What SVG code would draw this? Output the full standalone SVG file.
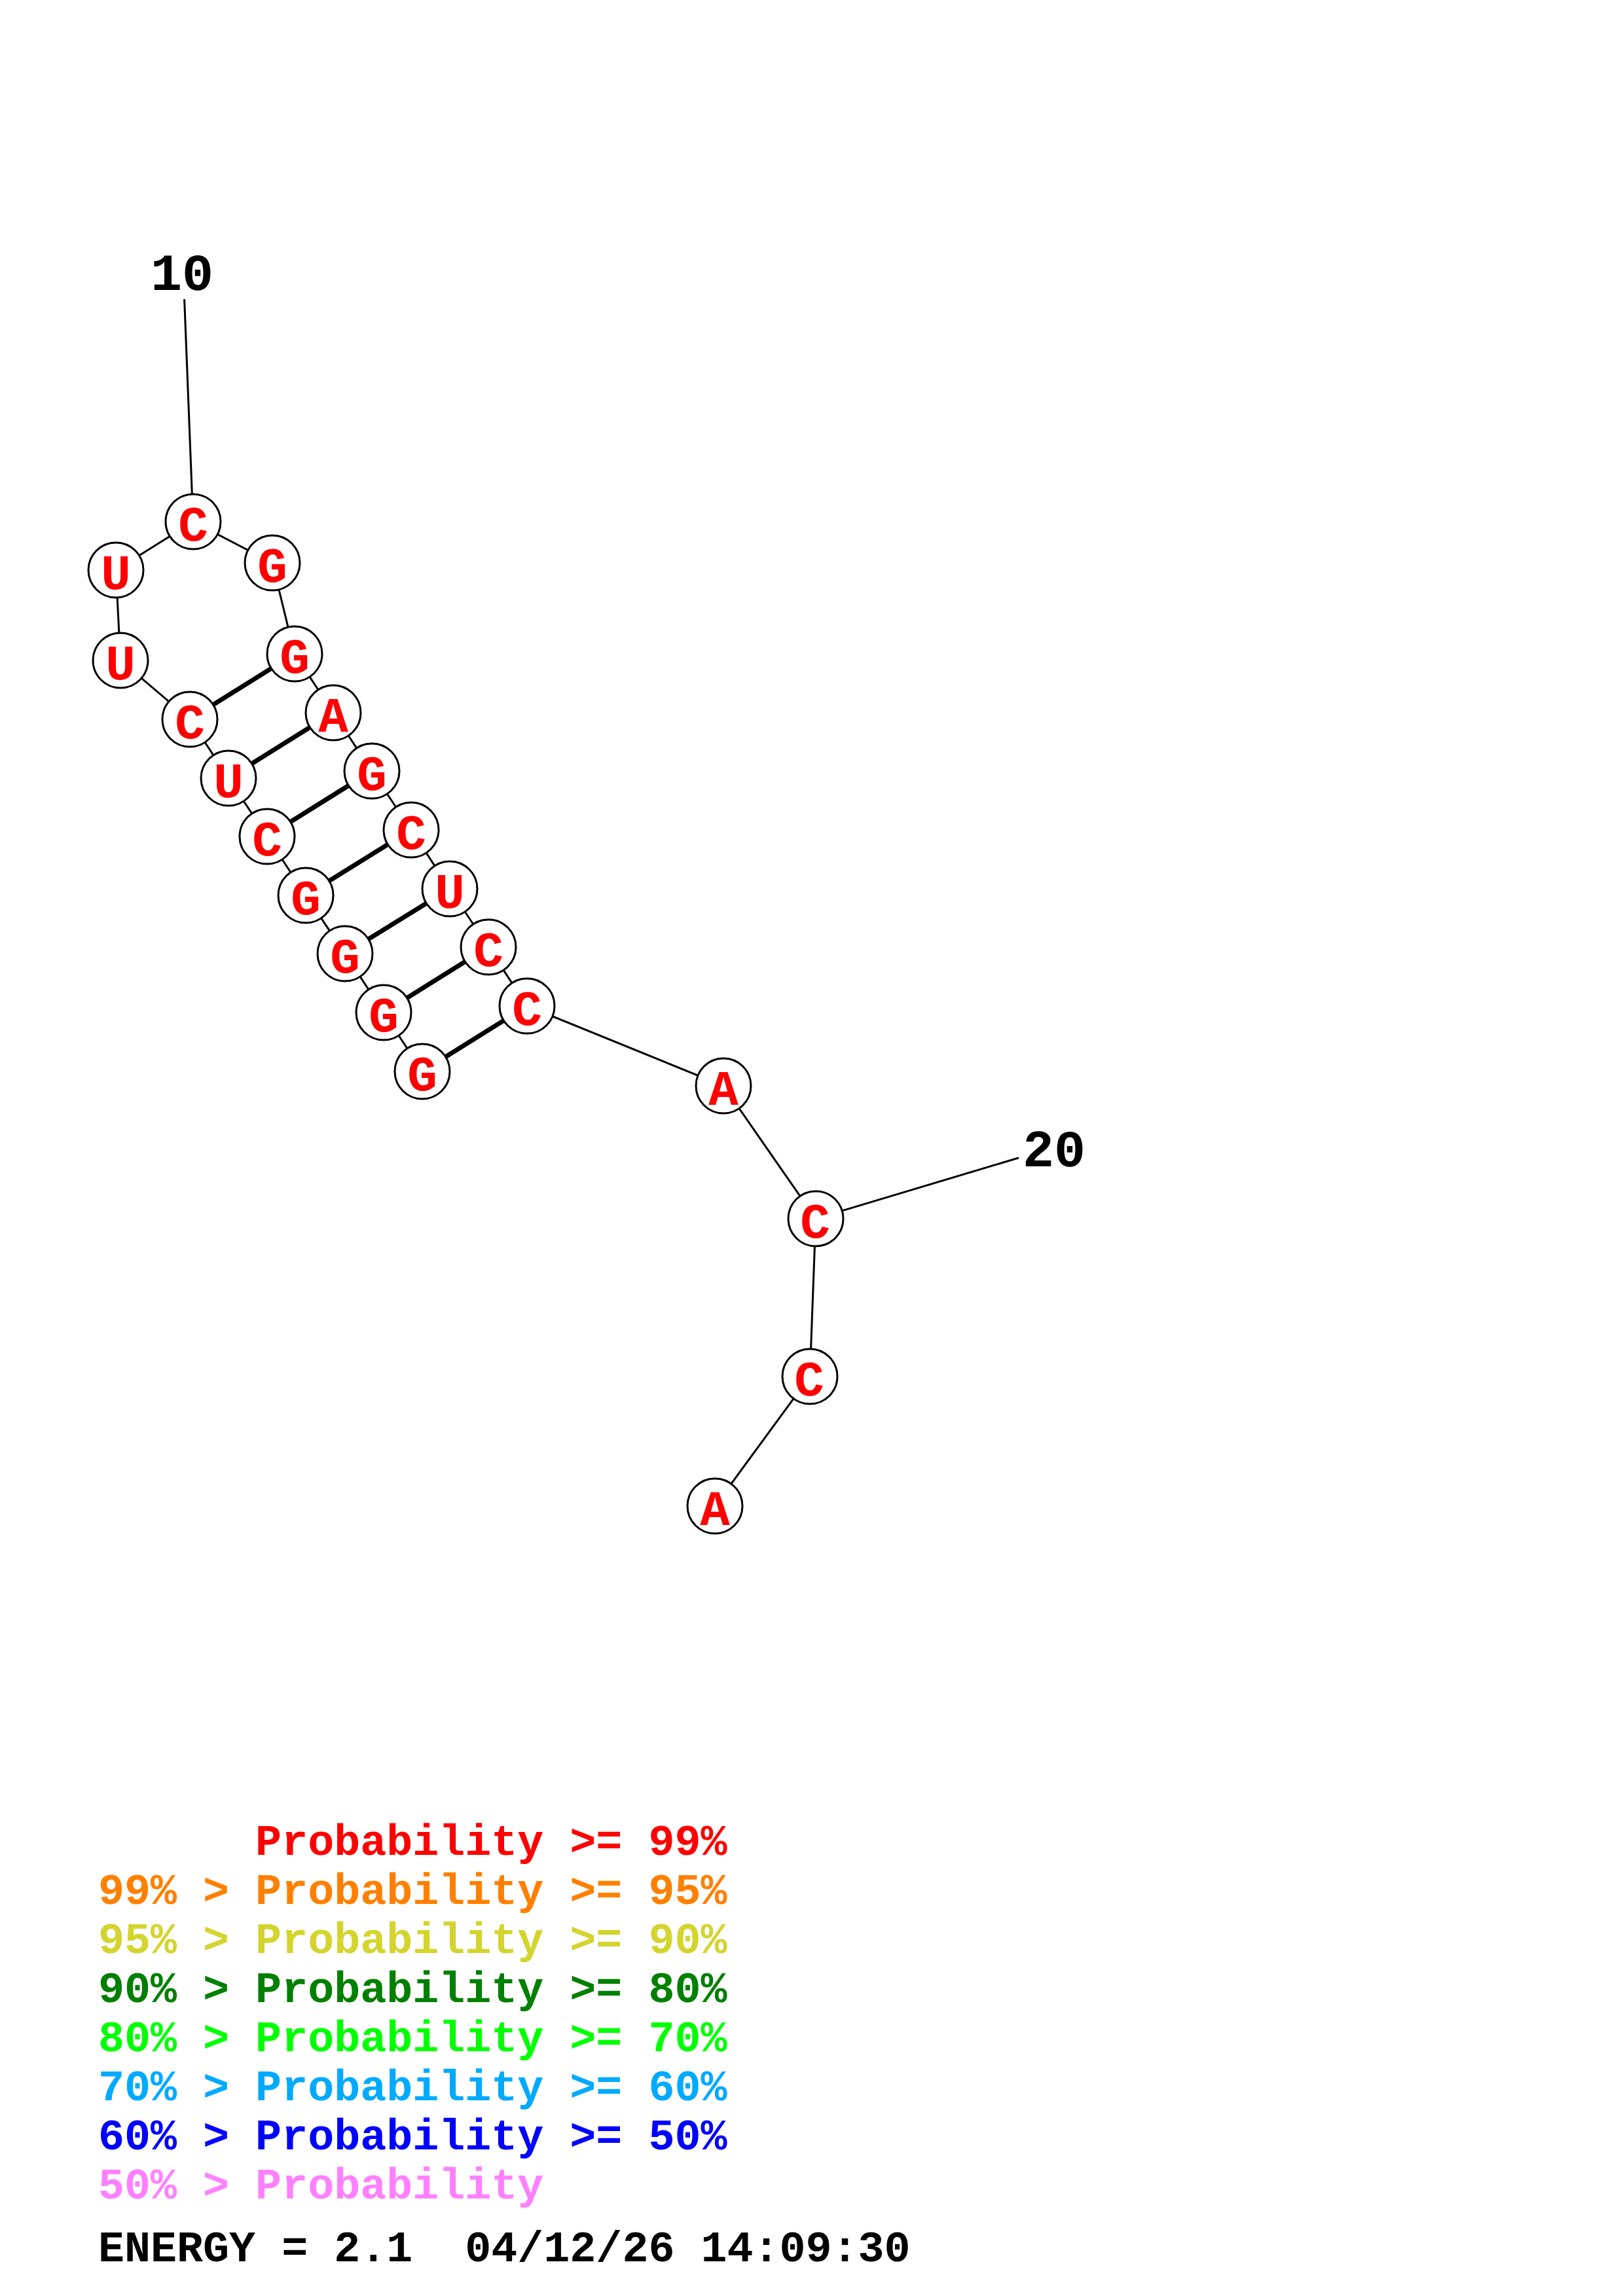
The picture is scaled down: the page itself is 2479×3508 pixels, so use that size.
<svg xmlns="http://www.w3.org/2000/svg" width="2479" height="3508" viewBox="0 0 2479 3508">
<style>
.bb{stroke:#000;stroke-width:3;fill:none}
.pr{stroke:#000;stroke-width:7;fill:none}
.nd circle{fill:#fff;stroke:#000;stroke-width:3}
.nd text{font-family:"Liberation Mono","Courier New",monospace;font-weight:bold;font-size:76px;fill:#f00;text-anchor:middle}
.lbl{font-family:"Liberation Mono","Courier New",monospace;font-weight:bold;font-size:80px;fill:#000;text-anchor:middle}
.lg{font-family:"Liberation Mono","Courier New",monospace;font-weight:bold;font-size:66.7px;white-space:pre}
</style>
<rect width="2479" height="3508" fill="#fff"/>
<g id="connectors">
<line class="bb" x1="281.6" y1="457" x2="295" y2="797"/>
<line class="bb" x1="1556" y1="1769" x2="1246" y2="1862"/>
<polyline class="bb" points="645,1637 586,1547 527,1457 467,1368 408,1278 349,1189 290,1099 184,1009 177,871 295,797 416,860 450,999 509,1089 568,1178 628,1268 687,1358 746,1447 805,1537 1105,1659 1246,1862 1237,2103 1092,2301"/>
<line class="pr" x1="645" y1="1637" x2="805" y2="1537"/>
<line class="pr" x1="586" y1="1547" x2="746" y2="1447"/>
<line class="pr" x1="527" y1="1457" x2="687" y2="1358"/>
<line class="pr" x1="467" y1="1368" x2="628" y2="1268"/>
<line class="pr" x1="408" y1="1278" x2="568" y2="1178"/>
<line class="pr" x1="349" y1="1189" x2="509" y2="1089"/>
<line class="pr" x1="290" y1="1099" x2="450" y2="999"/>
</g>
<g id="n1" class="nd"><circle cx="645" cy="1637" r="42"/><text x="645" y="1666">G</text></g>
<g id="n2" class="nd"><circle cx="586" cy="1547" r="42"/><text x="586" y="1576">G</text></g>
<g id="n3" class="nd"><circle cx="527" cy="1457" r="42"/><text x="527" y="1486">G</text></g>
<g id="n4" class="nd"><circle cx="467" cy="1368" r="42"/><text x="467" y="1397">G</text></g>
<g id="n5" class="nd"><circle cx="408" cy="1278" r="42"/><text x="408" y="1307">C</text></g>
<g id="n6" class="nd"><circle cx="349" cy="1189" r="42"/><text x="349" y="1218">U</text></g>
<g id="n7" class="nd"><circle cx="290" cy="1099" r="42"/><text x="290" y="1128">C</text></g>
<g id="n8" class="nd"><circle cx="184" cy="1009" r="42"/><text x="184" y="1038">U</text></g>
<g id="n9" class="nd"><circle cx="177" cy="871" r="42"/><text x="177" y="900">U</text></g>
<g id="n10" class="nd"><circle cx="295" cy="797" r="42"/><text x="295" y="826">C</text></g>
<g id="n11" class="nd"><circle cx="416" cy="860" r="42"/><text x="416" y="889">G</text></g>
<g id="n12" class="nd"><circle cx="450" cy="999" r="42"/><text x="450" y="1028">G</text></g>
<g id="n13" class="nd"><circle cx="509" cy="1089" r="42"/><text x="509" y="1118">A</text></g>
<g id="n14" class="nd"><circle cx="568" cy="1178" r="42"/><text x="568" y="1207">G</text></g>
<g id="n15" class="nd"><circle cx="628" cy="1268" r="42"/><text x="628" y="1297">C</text></g>
<g id="n16" class="nd"><circle cx="687" cy="1358" r="42"/><text x="687" y="1387">U</text></g>
<g id="n17" class="nd"><circle cx="746" cy="1447" r="42"/><text x="746" y="1476">C</text></g>
<g id="n18" class="nd"><circle cx="805" cy="1537" r="42"/><text x="805" y="1566">C</text></g>
<g id="n19" class="nd"><circle cx="1105" cy="1659" r="42"/><text x="1105" y="1688">A</text></g>
<g id="n20" class="nd"><circle cx="1246" cy="1862" r="42"/><text x="1245" y="1891">C</text></g>
<g id="n21" class="nd"><circle cx="1237" cy="2103" r="42"/><text x="1236" y="2132">C</text></g>
<g id="n22" class="nd"><circle cx="1092" cy="2301" r="42"/><text x="1092" y="2330">A</text></g>
<g id="labels">
<text class="lbl" x="278" y="443">10</text>
<text class="lbl" x="1610" y="1782">20</text>
</g>
<g id="legend">
<text class="lg" x="150" y="2834" fill="#ff0000">      Probability &gt;= 99%</text>
<text class="lg" x="150" y="2909" fill="#ff8000">99% &gt; Probability &gt;= 95%</text>
<text class="lg" x="150" y="2984" fill="#d4d42e">95% &gt; Probability &gt;= 90%</text>
<text class="lg" x="150" y="3059" fill="#008000">90% &gt; Probability &gt;= 80%</text>
<text class="lg" x="150" y="3134" fill="#00ff00">80% &gt; Probability &gt;= 70%</text>
<text class="lg" x="150" y="3209" fill="#00aaff">70% &gt; Probability &gt;= 60%</text>
<text class="lg" x="150" y="3284" fill="#0000ff">60% &gt; Probability &gt;= 50%</text>
<text class="lg" x="150" y="3359" fill="#ff80ff">50% &gt; Probability</text>
<text class="lg" x="150" y="3455" fill="#000000">ENERGY = 2.1  04/12/26 14:09:30</text>
</g>
</svg>
